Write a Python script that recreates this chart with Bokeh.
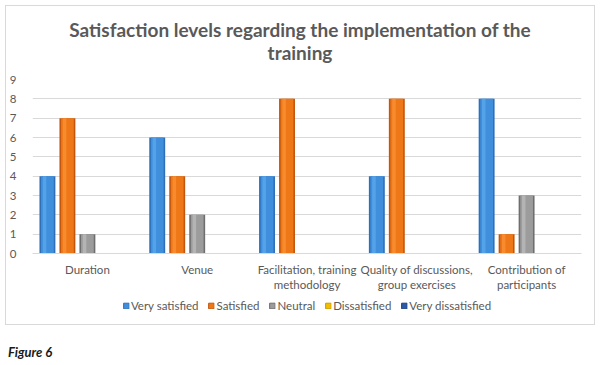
from bokeh.plotting import figure
from bokeh.models import (FactorRange, Legend, LegendItem, Div, Range1d,
                          SingleIntervalTicker, ColumnDataSource)
from bokeh.layouts import column
from bokeh.transform import dodge
from bokeh.embed import file_html
from bokeh.resources import INLINE

categories = ["Duration", "Venue", "Facilitation, training\nmethodology",
              "Quality of discussions,\ngroup exercises", "Contribution of\nparticipants"]
series_names = ["Very satisfied", "Satisfied", "Neutral", "Dissatisfied", "Very dissatisfied"]
very_satisfied = [4, 6, 4, 4, 8]
satisfied = [7, 4, 8, 8, 1]
neutral = [1, 2, 0, 0, 3]
dissatisfied = [0, 0, 0, 0, 0]
very_dissatisfied = [0, 0, 0, 0, 0]
title_lines = ["Satisfaction levels regarding the implementation of the", "training"]
caption = "Figure 6"

series_values = [very_satisfied, satisfied, neutral, dissatisfied, very_dissatisfied]
# (edge, main, highlight)
palette = [("#2F6FB8", "#3F8FDD", "#63B0F2"),
           ("#C2560C", "#EE7718", "#FF9A3C"),
           ("#6E6E6E", "#9C9C9C", "#C4C4C4"),
           ("#C99A00", "#F2BE00", "#FFD84A"),
           ("#1E3F7E", "#2C5AA8", "#4D7CC8")]

FONT = "Lato"
TXT = "#595959"

W = 588
title_div = Div(text="<br>".join(title_lines), width=W, height=50, margin=(12, 0, 0, 0),
                styles={"font-family": FONT, "font-size": "19px", "font-weight": "bold",
                        "color": TXT, "text-align": "center", "line-height": "23px"})

p = figure(x_range=FactorRange(*categories, range_padding=0), y_range=(0, 9),
           width=W, height=230, output_backend="svg", toolbar_location=None, title=None,
           min_border_left=21, min_border_right=13, min_border_top=11, min_border_bottom=45)
p.outline_line_color = None
p.xgrid.grid_line_color = None
p.ygrid.grid_line_color = "#D9D9D9"
p.ygrid.grid_line_width = 1
p.yaxis.ticker = SingleIntervalTicker(interval=1)
p.yaxis.axis_line_color = None
p.yaxis.major_tick_line_color = None
p.yaxis.minor_tick_line_color = None
p.yaxis.major_label_text_font = FONT
p.yaxis.major_label_text_font_size = "11.5px"
p.yaxis.major_label_text_color = TXT
p.yaxis.major_label_standoff = 10
p.xaxis.axis_line_color = "#D9D9D9"
p.xaxis.major_tick_line_color = None
p.xaxis.major_label_text_font = FONT
p.xaxis.major_label_text_font_size = "11.5px"
p.xaxis.major_label_text_color = TXT
p.xaxis.major_label_standoff = 3

src = ColumnDataSource(dict(cat=categories,
                            **{f"s{i}": v for i, v in enumerate(series_values)}))

n = len(series_names)
step = 0.182
bw = 0.145
for i, name in enumerate(series_names):
    off = (i - (n - 1) / 2) * step
    edge, main, hi = palette[i]
    p.vbar(x=dodge("cat", off, range=p.x_range), top=f"s{i}", width=bw,
           source=src, fill_color=edge, line_color=None)
    p.vbar(x=dodge("cat", off, range=p.x_range), top=f"s{i}", width=bw * 0.8,
           source=src, fill_color=main, line_color=None)
    p.vbar(x=dodge("cat", off - bw * 0.18, range=p.x_range), top=f"s{i}", width=bw * 0.22,
           source=src, fill_color=hi, line_color=None, fill_alpha=0.6)

# legend strip: a small figure sharing the categories; its y window lies above the data,
# so only the legend shows
lf = figure(width=W, height=26, output_backend="svg", toolbar_location=None, title=None,
            x_range=p.x_range, y_range=Range1d(100, 101), min_border=0)
lf.axis.visible = False
lf.grid.visible = False
lf.outline_line_color = None
items = []
for i, name in enumerate(series_names):
    off = (i - (n - 1) / 2) * step
    edge, main, hi = palette[i]
    r = lf.vbar(x=dodge("cat", off, range=lf.x_range), top=f"s{i}", width=bw,
                source=src, fill_color=main, line_color=edge, line_width=1)
    items.append(LegendItem(label=name, renderers=[r]))
legend = Legend(items=items, orientation="horizontal", location="top_center",
                label_text_font=FONT, label_text_font_size="11.5px",
                label_text_color=TXT, glyph_width=7, glyph_height=7,
                spacing=9, label_standoff=2, padding=0, margin=1,
                border_line_color=None, background_fill_alpha=0)
lf.add_layout(legend, "center")

box = column(title_div, p, lf, spacing=0,
             styles={"border": "1px solid #D9D9D9", "margin-left": "5px", "margin-top": "5px"})

cap = Div(text=caption, styles={"font-family": FONT, "font-size": "13px",
                                "font-weight": "bold", "font-style": "italic",
                                "color": "#1a1a1a"},
          margin=(18, 0, 0, 8))

open("out.html", "w").write(file_html(column(box, cap, spacing=0), INLINE))
